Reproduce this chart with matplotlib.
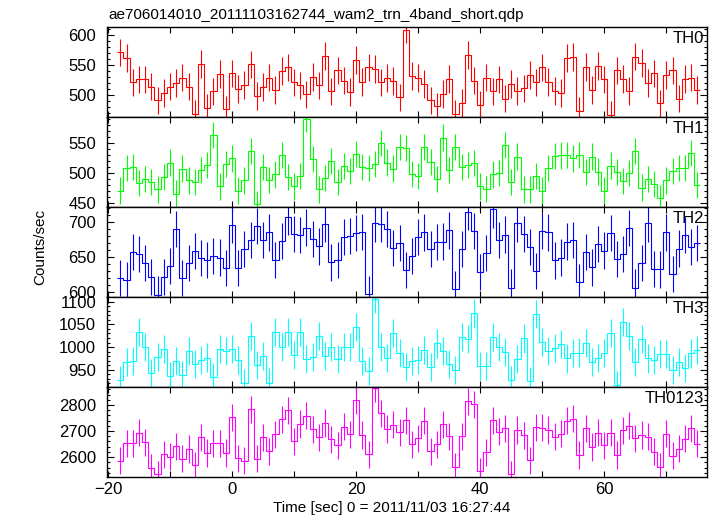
import numpy as np
import matplotlib.pyplot as plt
from matplotlib.ticker import MultipleLocator, AutoMinorLocator

plt.rcParams['font.family'] = ['Liberation Sans', 'DejaVu Sans']

# 1 s bins, first bin centred at -18 s
t0 = -18.0
dt = 1.0

th0 = [571, 562, 521, 526, 526, 514, 491, 503, 514, 520, 529, 514, 468, 552, 479, 506,
       535, 476, 536, 510, 517, 551, 498, 513, 529, 508, 540, 546, 521, 516, 501, 530,
       516, 565, 506, 541, 524, 505, 558, 522, 546, 543, 521, 528, 523, 496, 609,
       532, 528, 518, 491, 481, 502, 527, 468, 487, 567, 524, 483, 529, 506, 526, 494,
       518, 507, 511, 533, 521, 546, 522, 507, 503, 562, 563, 473, 547, 508, 548, 526,
       467, 541, 527, 507, 564, 553, 520, 536, 486, 533, 541, 494, 527, 529, 508]
th1 = [470, 508, 509, 483, 490, 484, 472, 493, 517, 465, 507, 487, 485, 505, 513, 563,
       477, 515, 524, 470, 487, 536, 448, 510, 488, 497, 530, 493, 477, 495, 590, 523,
       472, 491, 519, 485, 511, 503, 532, 509, 508, 514, 550, 517, 507, 543, 542,
       498, 495, 543, 518, 490, 559, 504, 543, 510, 513, 516, 477, 473, 497, 499, 547,
       485, 527, 472, 472, 494, 470, 508, 528, 529, 530, 524, 530, 501, 527, 502, 470,
       512, 501, 486, 500, 536, 475, 489, 481, 458, 487, 503, 508, 508, 533, 480]
th2 = [620, 617, 657, 654, 641, 621, 596, 621, 637, 690, 620, 641, 658, 648, 646, 651,
       649, 634, 696, 634, 661, 674, 694, 674, 685, 646, 673, 707, 683, 681, 692, 676,
       665, 697, 642, 646, 679, 680, 684, 686, 597, 698, 697, 690, 663, 670, 631,
       651, 679, 685, 661, 671, 672, 688, 604, 661, 715, 687, 628, 656, 718, 674, 682,
       606, 698, 683, 664, 630, 687, 685, 645, 649, 672, 674, 614, 657, 635, 668, 659,
       684, 647, 654, 691, 606, 641, 698, 633, 632, 685, 626, 662, 681, 664, 670]
th3 = [927, 967, 969, 1033, 1001, 942, 978, 995, 936, 969, 938, 991, 963, 971, 977, 935,
       995, 992, 995, 971, 921, 1024, 960, 980, 922, 1034, 1001, 1034, 982, 1034, 974, 979,
       1024, 980, 1000, 974, 1001, 1000, 1044, 970, 948, 1106, 1001, 976, 1031, 987, 956,
       970, 971, 993, 956, 1008, 991, 963, 949, 1023, 1017, 1074, 959, 959, 1022, 1001, 990,
       927, 974, 1019, 925, 1072, 1012, 992, 998, 1007, 975, 987, 988, 1009, 968, 976, 987,
       1031, 917, 1055, 1025, 968, 1017, 975, 971, 984, 985, 949, 968, 954, 986, 993]
th0123 = [2587, 2653, 2653, 2694, 2657, 2559, 2534, 2611, 2602, 2642, 2594, 2631, 2569, 2676,
          2616, 2653, 2653, 2616, 2753, 2595, 2586, 2783, 2594, 2676, 2623, 2687, 2745, 2780,
          2661, 2727, 2758, 2707, 2676, 2731, 2669, 2646, 2716, 2687, 2818, 2685, 2611, 2864,
          2768, 2708, 2725, 2696, 2741,
          2650, 2673, 2740, 2623, 2650, 2726, 2680, 2564, 2680, 2814, 2803, 2546, 2618, 2741,
          2698, 2711, 2535, 2704, 2683, 2588, 2715, 2713, 2704, 2679, 2690, 2740, 2747, 2608,
          2711, 2639, 2694, 2646, 2693, 2608, 2703, 2720, 2673, 2685, 2679, 2620, 2562, 2690,
          2605, 2632, 2671, 2711, 2651]

names = ['TH0', 'TH1', 'TH2', 'TH3', 'TH0123']
series = [th0, th1, th2, th3, th0123]
errs = [23, 22, 26, 31, 52]
colors = ['#ff0000', '#00ff00', '#0000ff', '#00ffff', '#ff00ff']
ylims = [(464, 614), (443, 594), (593, 722), (913, 1111), (2525, 2870)]
ysteps = [50, 50, 50, 50, 100]

fig = plt.figure(figsize=(7.17, 5.16), dpi=100)
axes = fig.subplots(5, 1, sharex=True, gridspec_kw=dict(hspace=0))
fig.subplots_adjust(left=0.1497, right=0.9856, top=0.9483, bottom=0.0762)

for ax, name, vals, err, c, yl, ys in zip(axes, names, series, errs, colors, ylims, ysteps):
    vals = np.array(vals, dtype=float)
    t = t0 + dt * np.arange(len(vals))
    edges = np.append(t - dt / 2, t[-1] + dt / 2)
    ax.stairs(vals, edges, baseline=None, color=c, lw=0.8)
    ax.errorbar(t, vals, yerr=err, fmt='none', ecolor=c, elinewidth=0.8)
    ax.set_ylim(*yl)
    ax.yaxis.set_major_locator(MultipleLocator(ys))
    ax.yaxis.set_minor_locator(AutoMinorLocator(5))
    ax.xaxis.set_major_locator(MultipleLocator(20))
    ax.xaxis.set_minor_locator(MultipleLocator(10))
    ax.tick_params(which='both', direction='in', top=True, right=True,
                   labelsize=12, width=0.8)
    ax.tick_params(axis='y', which='major', length=5, pad=8)
    ax.tick_params(axis='y', which='minor', length=2.5)
    ax.tick_params(axis='x', which='both', length=4, pad=4)
    for s in ax.spines.values():
        s.set_linewidth(1.0)
    ax.text(0.996, 0.955, name, transform=ax.transAxes, ha='right', va='top', fontsize=12)

axes[-1].set_xlim(-20.1, 76.5)

fig.text(108 / 717, 1 - 19 / 516, 'ae706014010_20111103162744_wam2_trn_4band_short.qdp',
         ha='left', va='baseline', fontsize=11)
fig.text(40 / 717, 1 - 247 / 516, 'Counts/sec', rotation=90, ha='center', va='center',
         fontsize=11)
fig.text(392 / 717, 1 - 508 / 516, 'Time [sec] 0 = 2011/11/03 16:27:44', ha='center',
         va='center', fontsize=11)

fig.savefig('out.png', dpi=100)
